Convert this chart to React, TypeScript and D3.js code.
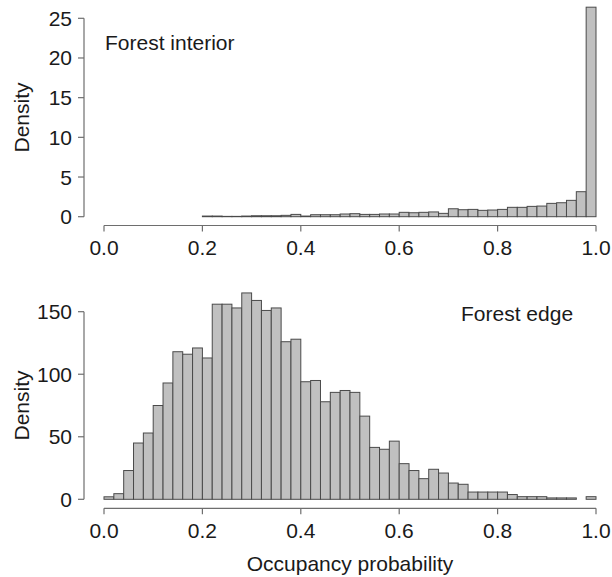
import React from "react";
import * as d3 from "d3";

// Histogram bin edges: 50 bins of width 0.02 over [0, 1]
const binWidth = 0.02;

// Forest interior: density per bin (bins 0.00–0.20 are empty)
const interiorStart = 10;
const interiorDensity = [
  0.08, 0.08, 0.04, 0.04, 0.08, 0.12, 0.12, 0.12, 0.17, 0.29,
  0.08, 0.25, 0.25, 0.25, 0.34, 0.38, 0.29, 0.29, 0.34, 0.34,
  0.55, 0.5, 0.55, 0.6, 0.42, 1.0, 0.88, 0.92, 0.8, 0.84,
  0.92, 1.18, 1.18, 1.3, 1.34, 1.68, 1.76, 2.06, 3.15, 26.4,
];

// Forest edge: density per bin from 0.00 to 1.00
const edgeDensity = [
  2, 4.5, 23, 45, 53, 75, 93, 118, 116, 121,
  113, 156, 156, 153, 165, 159, 151, 153, 126, 128,
  94, 95, 78, 85.5, 87, 85.5, 66.5, 41.5, 40, 46.5,
  28.5, 23, 16.5, 24, 21, 13, 12, 5.8, 5.8, 5.8,
  5.8, 3.8, 2.1, 2.1, 2.1, 1.1, 1.1, 1.1, 0, 2.1,
];

const xTicks = [0, 0.2, 0.4, 0.6, 0.8, 1.0];
const interiorTicks = [0, 5, 10, 15, 20, 25];
const edgeTicks = [0, 50, 100, 150];

const FONT = "'Liberation Sans', Arial, Helvetica, sans-serif";
const FS = 21;
const TEXT = "#1a1a1a";
const AXIS = "#6e6e6e";
const FILL = "#c0c0c0";
const EDGE = "#4a4a4a";

type Panel = {
  values: number[];
  start: number;
  yMax: number;
  yTicks: number[];
  y0: number; // pixel of zero
  yTop: number; // pixel of yMax
  xAxisY: number;
  label: string;
  labelX: number;
  labelY: number;
  showTitle: boolean;
};

const x = d3.scaleLinear().domain([0, 1]).range([104, 596]);

function HistPanel({ p }: { p: Panel }) {
  const y = d3.scaleLinear().domain([0, p.yMax]).range([p.y0, p.yTop]);
  const bins = p.values.map((v, i) => {
    const lo = (p.start + i) * binWidth;
    return { lo, hi: lo + binWidth, v };
  });
  const axisX = 84;
  return (
    <g>
      {bins.map((b, i) =>
        b.v > 0 ? (
          <rect
            key={i}
            x={x(b.lo)}
            y={y(b.v)}
            width={x(b.hi) - x(b.lo)}
            height={y(0) - y(b.v)}
            fill={FILL}
            stroke={EDGE}
            strokeWidth={1}
          />
        ) : null
      )}
      {/* y axis */}
      <line x1={axisX} x2={axisX} y1={y(0)} y2={y(p.yMax)} stroke={AXIS} strokeWidth={1.2} />
      {p.yTicks.map((t) => (
        <g key={t}>
          <line x1={axisX - 6} x2={axisX} y1={y(t)} y2={y(t)} stroke={AXIS} strokeWidth={1.2} />
          <text
            x={axisX - 12}
            y={y(t)}
            textAnchor="end"
            dominantBaseline="central"
            fontFamily={FONT}
            fontSize={FS}
            fill={TEXT}
          >
            {t}
          </text>
        </g>
      ))}
      <text
        transform={`translate(21,${(y(0) + y(p.yMax)) / 2}) rotate(-90)`}
        textAnchor="middle"
        dominantBaseline="central"
        fontFamily={FONT}
        fontSize={FS}
        fill={TEXT}
      >
        Density
      </text>
      {/* x axis */}
      <line x1={x(0)} x2={x(1)} y1={p.xAxisY} y2={p.xAxisY} stroke={AXIS} strokeWidth={1.2} />
      {xTicks.map((t) => (
        <g key={t}>
          <line x1={x(t)} x2={x(t)} y1={p.xAxisY} y2={p.xAxisY + 6} stroke={AXIS} strokeWidth={1.2} />
          <text
            x={x(t)}
            y={p.xAxisY + 22}
            textAnchor="middle"
            dominantBaseline="central"
            fontFamily={FONT}
            fontSize={FS}
            fill={TEXT}
          >
            {t.toFixed(1)}
          </text>
        </g>
      ))}
      <text
        x={p.labelX}
        y={p.labelY}
        dominantBaseline="central"
        fontFamily={FONT}
        fontSize={FS}
        fill={TEXT}
      >
        {p.label}
      </text>
      {p.showTitle ? (
        <text
          x={(x(0) + x(1)) / 2}
          y={563}
          textAnchor="middle"
          dominantBaseline="central"
          fontFamily={FONT}
          fontSize={FS}
          fill={TEXT}
        >
          Occupancy probability
        </text>
      ) : null}
    </g>
  );
}

export default function App() {
  const top: Panel = {
    values: interiorDensity,
    start: interiorStart,
    yMax: 25,
    yTicks: interiorTicks,
    y0: 216.7,
    yTop: 18.3,
    xAxisY: 225.5,
    label: "Forest interior",
    labelX: 105,
    labelY: 42,
    showTitle: false,
  };
  const bottom: Panel = {
    values: edgeDensity,
    start: 0,
    yMax: 150,
    yTicks: edgeTicks,
    y0: 499.3,
    yTop: 311.7,
    xAxisY: 508.3,
    label: "Forest edge",
    labelX: 461,
    labelY: 313,
    showTitle: true,
  };
  return (
    <svg
      width={612}
      height={577}
      style={{ position: "absolute", left: 0, top: 0, background: "#fff" }}
    >
      <HistPanel p={top} />
      <HistPanel p={bottom} />
    </svg>
  );
}
